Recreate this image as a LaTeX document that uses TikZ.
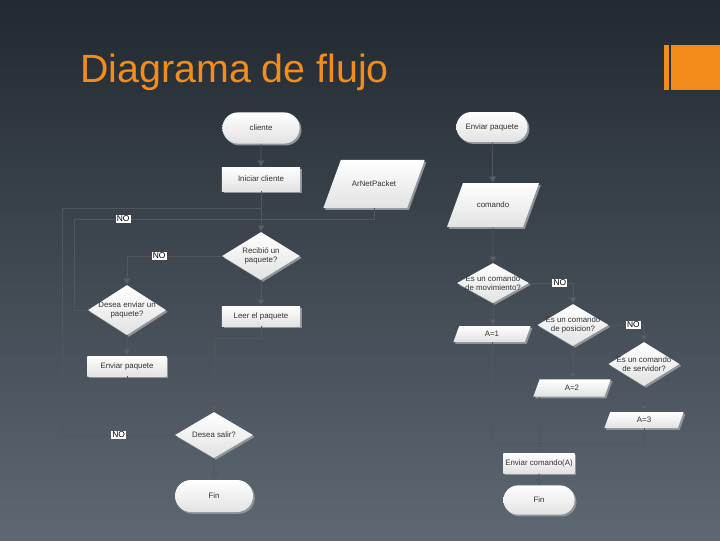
\documentclass[tikz,border=0pt]{standalone}
\usepackage{fontspec}
\setmainfont{Liberation Sans}
\usetikzlibrary{arrows.meta, shapes.geometric, shapes.misc, shadows}
\definecolor{bgtop}{HTML}{222930}
\definecolor{bgmid}{HTML}{2A3139}
\definecolor{bgbot}{HTML}{5E6873}
\definecolor{orng}{HTML}{F28C1A}
\definecolor{ln}{HTML}{50575F}
\definecolor{tip}{HTML}{5A6168}
\definecolor{shd}{HTML}{8E949A}
\definecolor{boxlow}{HTML}{E2E2E2}
\definecolor{txt}{HTML}{333333}

\begin{document}
\begin{tikzpicture}[x=0.025cm, y=-0.025cm,
    box/.style={top color=white, bottom color=boxlow, text=txt, inner sep=0pt,
      font=\fontsize{5.6}{6.6}\selectfont,
      drop shadow={shadow xshift=1.3pt, shadow yshift=-1.3pt, fill=shd, opacity=1}},
    term/.style={box, rounded rectangle},
    proc/.style={box, rectangle},
    io/.style={box, trapezium, trapezium left angle=70, trapezium right angle=110, align=center},
    dec/.style={box, diamond},
    dtext/.style={font=\fontsize{5.6}{6.6}\selectfont, text=txt, align=center, inner sep=0pt},
    flow/.style={draw=ln, line width=0.6pt},
    arr/.style={flow, -{Triangle[width=5pt, length=4.5pt, fill=tip]}},
    nolbl/.style={fill=white, text=black, font=\fontsize{6}{6}\selectfont, inner sep=0.8pt}]
  \useasboundingbox (0,0) rectangle (720,540);
  \shade[top color=bgtop, middle color=bgmid, bottom color=bgbot] (0,0) rectangle (720,540);
  % title
  \node[anchor=base west, font=\fontsize{28}{30}\selectfont, text=orng, inner sep=0pt] (title) at (80,82) {Diagrama de flujo};
  \fill[orng] (664,45) rectangle (668.5,90);
  \fill[orng] (671,45) rectangle (720,90);
  % left chart
  \node[term, minimum width=1.93cm, minimum height=0.78cm] (cliente) at (261,128) {cliente};
  \node[proc, minimum width=1.95cm, minimum height=0.6cm] (iniciar) at (261,179) {Iniciar cliente};
  \node[io, text width=1.66cm, text height=0.67cm, text depth=0.53cm] (arnet) at (374,184) {ArNetPacket};
  \node[dec, minimum width=1.95cm, minimum height=1.2cm,
    label={[dtext]center:Recibió un\\paquete?}] (recibio) at (261,256) {};
  \node[dec, minimum width=1.95cm, minimum height=1.25cm,
    label={[dtext]center:Desea enviar un\\paquete?}] (deseaenv) at (127,310) {};
  \node[proc, minimum width=1.95cm, minimum height=0.5cm] (leer) at (261,316) {Leer el paquete};
  \node[proc, minimum width=1.98cm, minimum height=0.5cm] (enviarp) at (127,366) {Enviar paquete};
  \node[dec, minimum width=1.95cm, minimum height=1.15cm,
    label={[dtext]center:Desea salir?}] (salir) at (214,435) {};
  \node[term, minimum width=1.95cm, minimum height=0.8cm] (fin1) at (214,496) {Fin};
  \coordinate (jo) at (261,208);
  \coordinate (ji) at (261,219);
  \draw[arr] (cliente) -- (iniciar);
  \draw[arr] (iniciar) -- (recibio);
  \draw[flow] (arnet.south) |- (ji);
  \draw[arr] (recibio.west) -| node[nolbl, pos=.33] {NO} (deseaenv.north);
  \draw[arr] (recibio) -- (leer);
  \draw[arr] (deseaenv) -- (enviarp);
  \draw[flow] (deseaenv.west) -- ++(-13,0) |- node[nolbl, pos=.63] {NO} (ji);
  \draw[flow] (enviarp.south) -- ++(0,24) -| (salir.north);
  \draw[arr] (leer.south) -- ++(0,12) -| (salir.north);
  \draw[arr] (salir) -- (fin1);
  \draw[flow] (salir.west) -- node[nolbl] {NO} ++(-112,0) |- (jo);
  % right chart
  \node[term, minimum width=1.78cm, minimum height=0.75cm] (envpaq) at (492,127) {Enviar paquete};
  \node[io, text width=1.5cm, text height=0.62cm, text depth=0.48cm] (comando) at (493,205) {comando};
  \node[dec, minimum width=1.8cm, minimum height=1cm,
    label={[dtext]center:Es un comando\\de movimiento?}] (mov) at (493,283) {};
  \node[io, text width=1.64cm, text height=0.27cm, text depth=0.13cm] (a1) at (492,334) {A=1};
  \node[dec, minimum width=1.78cm, minimum height=1.05cm,
    label={[dtext]center:Es un comando\\de posicion?}] (pos) at (573,325) {};
  \node[dec, minimum width=1.78cm, minimum height=1.1cm,
    label={[dtext]center:Es un comando\\de servidor?}] (serv) at (644,364) {};
  \node[io, text width=1.62cm, text height=0.285cm, text depth=0.145cm] (a2) at (572,388) {A=2};
  \node[io, text width=1.69cm, text height=0.27cm, text depth=0.13cm] (a3) at (644,420) {A=3};
  \node[proc, minimum width=1.78cm, minimum height=0.5cm] (envcmd) at (539,463) {Enviar comando(A)};
  \node[term, minimum width=1.78cm, minimum height=0.73cm] (fin2) at (539,500) {Fin};
  \coordinate (jm) at (539,443);
  \draw[arr] (envpaq) -- (comando);
  \draw[arr] (comando) -- (mov);
  \draw[arr] (mov) -- (mov |- a1.north);
  \draw[arr] (mov.east) -| node[nolbl, pos=.35] {NO} (pos.north);
  \draw[arr] (pos.south) -- (pos.south |- a2.north);
  \draw[arr] (pos.east) -| node[nolbl, pos=.35] {NO} (serv.north);
  \draw[arr] (serv) -- (a3);
  \draw[flow] (a1.south) |- (jm);
  \draw[flow] (a3.south) |- (jm);
  \draw[arr] (envcmd.north |- a2.south) -- (envcmd.north);
  \draw[arr] (envcmd) -- (fin2);
\end{tikzpicture}
\end{document}
